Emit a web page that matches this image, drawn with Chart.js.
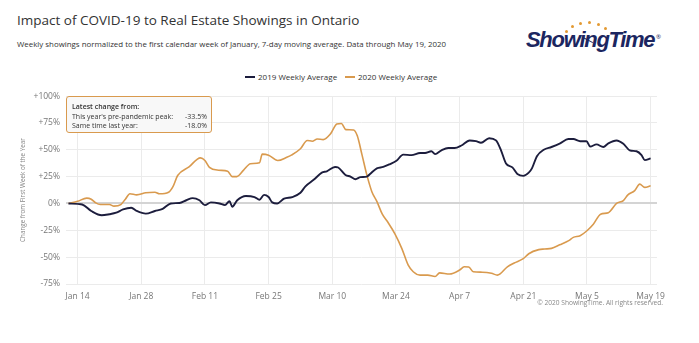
<!DOCTYPE html>
<html>
<head>
<meta charset="utf-8">
<script src="https://cdn.jsdelivr.net/npm/chart.js@4"></script>
<style>
  html, body { margin: 0; padding: 0; background: #fff; }
  body { width: 699px; height: 343px; position: relative; overflow: hidden; font-family: "Open Sans", sans-serif; }
  .abs { position: absolute; white-space: nowrap; }
  #title { left: 17px; top: 11px; font-size: 13.5px; color: #333; line-height: 18px; }
  #subtitle { left: 17px; top: 39px; font-size: 7.9px; color: #333; line-height: 11px; }
  #logo { left: 526px; top: 27px; font-family: "Liberation Sans", sans-serif; font-size: 22px; font-weight: bold; font-style: italic; color: #1c2660; letter-spacing: -1.3px; line-height: 26px; }
  #reg { left: 656px; top: 33px; font-size: 6px; color: #1c2660; }
  .dot { position: absolute; width: 3px; height: 3px; border-radius: 50%; background: #e39a33; }
  #hand { left: 583px; top: 37px; width: 11px; height: 1.3px; background: #1c2660; transform: rotate(28deg); transform-origin: left center; }
  #legend { left: 0; top: 71px; width: 699px; height: 12px; font-size: 8px; color: #333; }
  .lg { position: absolute; top: 0; line-height: 12px; }
  .lg i { display: inline-block; width: 10px; height: 2px; vertical-align: middle; margin-right: 3px; position: relative; top: -1px; }
  #chartWrap { position: absolute; left: 0; top: 85px; width: 699px; height: 225px; }
  #note { left: 66px; top: 96px; width: 144px; height: 35px; border: 1.5px solid #d99a4e; border-radius: 3px; background: rgba(248,248,248,0.96); font-size: 7px; color: #333; }
  .row { position: absolute; left: 5px; right: 4px; line-height: 9px; }
  .row span { position: absolute; right: 0; top: 0; }
  #copy { right: 36px; top: 298px; font-size: 6.6px; color: #888; }
</style>
</head>
<body>
<div id="title" class="abs">Impact of COVID-19 to Real Estate Showings in Ontario</div>
<div id="subtitle" class="abs">Weekly showings normalized to the first calendar week of January, 7-day moving average. Data through May 19, 2020</div>

<div class="dot" style="left:565px;top:30px"></div>
<div class="dot" style="left:571px;top:25px"></div>
<div class="dot" style="left:579px;top:22px"></div>
<div class="dot" style="left:588px;top:21px"></div>
<div class="dot" style="left:597px;top:23px"></div>
<div class="dot" style="left:604px;top:27px"></div>
<div id="hand" class="abs"></div>
<div id="logo" class="abs">ShowingTime</div>
<div id="reg" class="abs">®</div>

<div id="legend" class="abs">
  <div class="lg" style="left:245px"><i style="background:#1c1d3d"></i>2019 Weekly Average</div>
  <div class="lg" style="left:345px"><i style="background:#d99a4e"></i>2020 Weekly Average</div>
</div>

<div id="chartWrap"><canvas id="chartCanvas"></canvas></div>

<div id="note" class="abs">
  <div class="row" style="top:5px;font-weight:600">Latest change from:</div>
  <div class="row" style="top:15px">This year's pre-pandemic peak:<span>-33.5%</span></div>
  <div class="row" style="top:24px">Same time last year:<span>-18.0%</span></div>
</div>

<div id="copy" class="abs">© 2020 ShowingTime. All rights reserved.</div>

<script>
// ------- Data (x = day of year 2020, y = % change from first week) -------
const tickDays = [14, 28, 42, 56, 70, 84, 98, 112, 126, 140];
const tickLabels = ["Jan 14", "Jan 28", "Feb 11", "Feb 25", "Mar 10", "Mar 24", "Apr 7", "Apr 21", "May 5", "May 19"];

const days2019 = [12, 15, 17, 19.3, 21, 22.5, 24, 25.8, 27, 29, 31, 32.7, 34.5, 36.4, 37.9, 39.3, 40.8, 42, 43.3, 45.2,
  46.4, 47.4, 48, 49.1, 51, 52.9, 54, 55, 56, 56.8, 57.9, 59.4, 61.2, 63, 64.1, 65.9, 67.7, 68.8, 70.6, 71.3,
  72.9, 74, 75.1, 76.2, 77.6, 78.3, 79.8, 81.2, 82.7, 84.1, 85.6, 87.4, 89.3, 90.4, 91.8, 92.6, 94, 95.5, 96.9, 98.4,
  100.2, 101.6, 102.7, 104.5, 106, 107.1, 108.2, 109.6, 110.7, 112, 113.2, 113.9, 115, 116.5, 118.2, 120.1, 121.9, 123, 124.5, 125.9,
  126.7, 128.1, 129.6, 130.7, 132.5, 134, 135.4, 136.9, 138, 138.7, 140];
const vals2019 = [0, -1, -7, -11, -10, -8.6, -5.5, -4, -7, -9.5, -7, -5, 0, 0.5, 3, 5, 3, -1.5, 1, 0,
  -1.5, 2, -3, 3, 7, 6, 3.5, 8, 6, 1, 0, 4.5, 6, 10, 16, 22, 28.7, 30, 34, 33.5,
  26.6, 25, 22.6, 24.5, 25, 27.5, 32.7, 34, 36.7, 39.7, 45.5, 45, 47, 47, 48.6, 46, 49.5, 51.6, 51.6, 54,
  58.7, 58, 56.5, 60.8, 58.7, 49.5, 37.2, 33.6, 27.5, 25.7, 28.7, 32.7, 44, 50, 52.6, 56, 60, 60, 58, 58,
  53, 55, 52.6, 56, 58.7, 55.6, 49.5, 48.6, 45, 40.4, 42];

const days2020 = [12, 14, 16, 17, 18, 19, 21, 22, 23.5, 24.5, 25.5, 27, 29, 31, 32, 34, 35, 36, 38.5, 41,
  42, 43, 45, 47, 48, 49, 50.5, 52, 54, 54.6, 56, 58, 60, 61, 63, 64.5, 65.6, 66.7, 68, 69.6,
  71, 72, 73, 74.7, 75.5, 76.5, 77.6, 78.7, 79.8, 81, 82.3, 83.8, 85.3, 86.7, 87.8, 89.3, 91, 92.6, 93.6, 95.8,
  98, 99, 100, 101, 103, 105, 106.3, 108.5, 110, 112, 113.2, 115.4, 116.7, 118.2, 120, 122, 123, 124.5, 126, 127.4,
  129, 130.7, 132.5, 134, 135, 136.5, 137.6, 138.7, 140];
const vals2020 = [0, 2, 5, 4, 0.5, -1, -1, -2.5, -1, 4, 9, 8, 10, 10.5, 9, 10.5, 16, 26, 34, 42.5,
  40, 33.6, 31, 30, 25, 25, 31, 37, 38, 46, 45, 40, 43, 45, 51, 58.7, 58, 60, 59.5, 64.8,
  74, 74.5, 68.8, 68.5, 63, 46, 26.6, 11, 2, -10, -18, -28.5, -42, -57.5, -63.6, -66.7, -66.7, -68, -64.6, -65.7,
  -62, -59, -59.2, -63.6, -64, -65, -66.7, -59, -55.4, -51.4, -46.8, -43, -42.4, -41.8, -38.5, -34.6, -31.6, -30, -25.4, -19.3,
  -10, -8.6, 0, 2.7, 8, 12, 18, 15, 16.5];

const toPoints = (xs, ys) => xs.map((x, i) => ({ x: x, y: ys[i] }));

// ------- Chart -------
const gridColor = "#ebebeb";
const tickColor = "#777";

new Chart(document.getElementById("chartCanvas").getContext("2d"), {
  type: "line",
  data: {
    datasets: [
      {
        label: "2019 Weekly Average",
        data: toPoints(days2019, vals2019),
        borderColor: "#1c1d3d",
        borderWidth: 1.9,
        pointRadius: 0,
        cubicInterpolationMode: "monotone",
      },
      {
        label: "2020 Weekly Average",
        data: toPoints(days2020, vals2020),
        borderColor: "#d99a4e",
        borderWidth: 1.6,
        pointRadius: 0,
        cubicInterpolationMode: "monotone",
      },
    ],
  },
  options: {
    responsive: true,
    maintainAspectRatio: false,
    animation: false,
    layout: { padding: { left: 0, right: 42, top: 8, bottom: 0 } },
    plugins: {
      legend: { display: false },
      tooltip: { enabled: false },
    },
    scales: {
      x: {
        type: "linear",
        min: 11.45,
        max: 141.4,
        afterBuildTicks: (scale) => { scale.ticks = tickDays.map((v) => ({ value: v })); },
        afterFit: (scale) => { scale.height = 26; },
        grid: { color: gridColor, drawTicks: false },
        border: { display: false },
        ticks: {
          padding: 7,
          color: tickColor,
          font: { family: "Open Sans", size: 8.5 },
          maxRotation: 0,
          autoSkip: false,
          callback: (v) => tickLabels[tickDays.indexOf(v)],
        },
      },
      y: {
        min: -75,
        max: 100,
        afterFit: (scale) => { scale.width = 66; },
        grid: {
          drawTicks: false,
          color: (ctx) => (ctx.tick && ctx.tick.value === 0 ? "#d4d4d4" : gridColor),
          lineWidth: (ctx) => (ctx.tick && ctx.tick.value === 0 ? 2 : 1),
        },
        border: { display: false },
        ticks: {
          stepSize: 25,
          padding: 6,
          color: tickColor,
          font: { family: "Open Sans", size: 8.5 },
          callback: (v) => (v > 0 ? "+" + v + "%" : v + "%"),
        },
        title: {
          display: true,
          text: "Change from First Week of the Year",
          color: "#888",
          font: { family: "Open Sans", size: 6.3 },
          padding: { top: 19, bottom: 4 },
        },
      },
    },
  },
});
</script>
</body>
</html>
